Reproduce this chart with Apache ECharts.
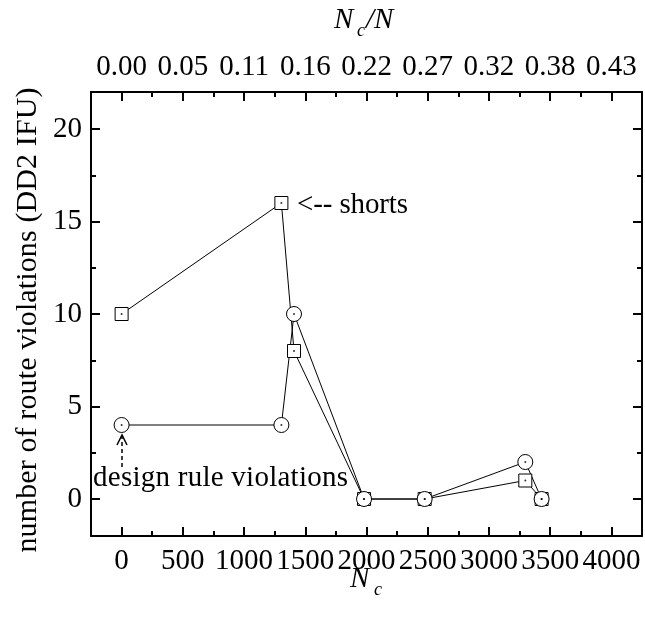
<!DOCTYPE html>
<html><head><meta charset="utf-8">
<script src="https://cdn.jsdelivr.net/npm/echarts@6/dist/echarts.min.js"></script>
<style>html,body{margin:0;padding:0;background:#fff}#c{width:645px;height:624px}</style>
</head><body><div id="c"></div>
<script>
// ---- data ----
const nc = [0, 1305, 1408, 1980, 2475, 3297, 3430];
const shorts = [10, 16, 8, 0, 0, 1, 0];
const drv = [4, 4, 10, 0, 0, 2, 0];
const xTicks = [0, 500, 1000, 1500, 2000, 2500, 3000, 3500, 4000];
const xMinor = [250, 750, 1250, 1750, 2250, 2750, 3250, 3750];
const topLabels = ['0.00', '0.05', '0.11', '0.16', '0.22', '0.27', '0.32', '0.38', '0.43'];
const yTicks = [0, 5, 10, 15, 20];
const yMinor = [2.5, 7.5, 12.5, 17.5];

const FONT = 'Liberation Serif';
const FS = 29;
const chart = echarts.init(document.getElementById('c'));
const lineStyle = {color: '#000', width: 2};
function xAx(pos, ticks, len, labels, showLine) {
  return {
    type: 'value', position: pos, min: -250, max: 4250,
    axisLine: {show: showLine, onZero: false, lineStyle: lineStyle},
    axisTick: {show: true, inside: true, length: len, customValues: ticks, lineStyle: {color: '#000', width: 2}},
    axisLabel: labels ? {show: true, customValues: ticks, fontFamily: FONT, fontSize: FS, color: '#000', margin: pos === 'top' ? 10 : 11,
      formatter: labels === true ? (v => String(v)) : (v => labels[xTicks.indexOf(v)])} : {show: false},
    splitLine: {show: false}
  };
}
function yAx(pos, ticks, len, labels, showLine) {
  return {
    type: 'value', position: pos, min: -2, max: 22,
    axisLine: {show: showLine, onZero: false, lineStyle: lineStyle},
    axisTick: {show: true, inside: true, length: len, customValues: ticks, lineStyle: {color: '#000', width: 2}},
    axisLabel: labels ? {show: true, customValues: ticks, fontFamily: FONT, fontSize: FS, color: '#000', margin: 9} : {show: false},
    splitLine: {show: false}
  };
}
const pts = (ys) => nc.map((x, i) => [x, ys[i]]);
function mainSeries(ys, sym, size) {
  return {type: 'line', data: pts(ys), symbol: sym, symbolSize: size, showSymbol: true,
    lineStyle: {color: '#000', width: 1}, itemStyle: {color: '#fff', borderColor: '#000', borderWidth: 1}, z: 3, animation: false};
}
function dotSeries(ys) {
  return {type: 'scatter', data: pts(ys), symbol: 'circle', symbolSize: 2, itemStyle: {color: '#000'}, z: 5, animation: false};
}
const italic = 'italic ' + FS + 'px "' + FONT + '"';
const sub = 'italic 18px "' + FONT + '"';
const plain = FS + 'px "' + FONT + '"';

// letter-spaced text: fits string into a target length
const mctx = document.createElement('canvas').getContext('2d');
function spaced(str, x, y, font, targetLen, rotation, align) {
  mctx.font = font;
  const ws = Array.from(str).map(ch => mctx.measureText(ch).width);
  const nat = ws.reduce((a, b) => a + b, 0);
  const gap = (targetLen - nat) / (ws.length - 1);
  let pos = align === 'center' ? -targetLen / 2 : 0;
  const children = [];
  Array.from(str).forEach((ch, i) => {
    children.push({type: 'text', x: pos, y: 0, style: {text: ch, font: font, fill: '#000', textVerticalAlign: 'middle'}});
    pos += ws[i] + gap;
  });
  return {type: 'group', x: x, y: y, rotation: rotation || 0, children: children};
}

chart.setOption({
  animation: false,
  grid: {left: 91, right: 3, top: 92, bottom: 88, containLabel: false},
  xAxis: [
    xAx('bottom', xTicks, 9, true, true),
    xAx('top', xTicks, 9, topLabels, true),
    xAx('bottom', xMinor, 5, false, false),
    xAx('top', xMinor, 5, false, false)
  ],
  yAxis: [
    yAx('left', yTicks, 9, true, true),
    yAx('right', yTicks, 9, false, true),
    yAx('left', yMinor, 5, false, false),
    yAx('right', yMinor, 5, false, false)
  ],
  series: [
    mainSeries(shorts, 'rect', 13),
    mainSeries(drv, 'circle', 15),
    dotSeries(shorts),
    dotSeries(drv)
  ],
  graphic: [
    spaced('number of route violations (DD2 IFU)', 28, 320, '30px "' + FONT + '"', 465, Math.PI / 2, 'center'),
    {type: 'text', x: 350, y: 579, style: {text: 'N', font: italic, fill: '#000', textVerticalAlign: 'middle'}},
    {type: 'text', x: 374, y: 590, style: {text: 'c', font: sub, fill: '#000', textVerticalAlign: 'middle'}},
    {type: 'text', x: 334, y: 20, style: {text: 'N', font: italic, fill: '#000', textVerticalAlign: 'middle'}},
    {type: 'text', x: 357, y: 31, style: {text: 'c', font: sub, fill: '#000', textVerticalAlign: 'middle'}},
    {type: 'text', x: 366, y: 20, style: {text: '/N', font: italic, fill: '#000', textVerticalAlign: 'middle'}},
    spaced('<-- shorts', 297, 205, plain, 111),
    spaced('design rule violations', 93, 478, plain, 255),
    {type: 'line', shape: {x1: 122, y1: 467, x2: 122, y2: 436}, style: {stroke: '#000', lineWidth: 1.5, lineDash: [4, 3]}},
    {type: 'polyline', shape: {points: [[117, 445], [122, 435], [127, 445]]}, style: {stroke: '#000', lineWidth: 1.5, fill: null}}
  ]
});
</script></body></html>
